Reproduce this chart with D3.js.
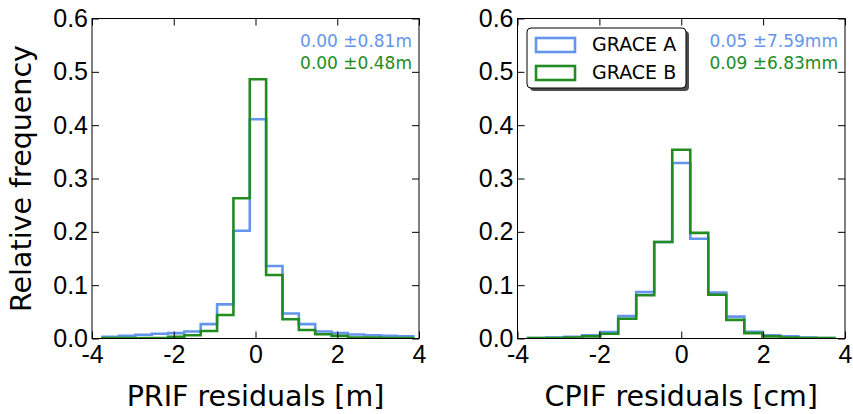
<!DOCTYPE html>
<html>
<head>
<meta charset="utf-8">
<script src="https://cdn.jsdelivr.net/npm/d3@7"></script>
<style>
  body { margin: 0; background: #fff; }
  svg { font-family: "DejaVu Sans", sans-serif; }
  .axis path { stroke: #000; }
  .axis line { stroke: #000; }
  .axis text { font-size: 25px; fill: #000; }
</style>
</head>
<body>
<div id="chart"></div>
<script>
// bin edges and relative frequencies
const prifEdges = [-3.74, -3.34, -2.94, -2.54, -2.14, -1.74, -1.34, -0.94, -0.54, -0.14,
                   0.26, 0.66, 1.06, 1.46, 1.86, 2.26, 2.66, 3.06, 3.46, 3.86];
const prifA = [0.003, 0.005, 0.007, 0.009, 0.010, 0.013, 0.027, 0.064, 0.202, 0.411,
               0.136, 0.047, 0.027, 0.013, 0.010, 0.0075, 0.006, 0.005, 0.004];
const prifB = [0.001, 0.001, 0.001, 0.001, 0.003, 0.006, 0.014, 0.044, 0.263, 0.486,
               0.119, 0.036, 0.016, 0.008, 0.005, 0.002, 0.002, 0.001, 0.001];

const cpifEdges = [-3.74, -3.30, -2.86, -2.42, -1.98, -1.54, -1.10, -0.66, -0.22,
                   0.22, 0.66, 1.10, 1.54, 1.98, 2.42, 2.86, 3.30, 3.74];
const cpifA = [0.001, 0.002, 0.003, 0.006, 0.012, 0.042, 0.087, 0.181, 0.329,
               0.187, 0.086, 0.041, 0.0125, 0.006, 0.004, 0.002, 0.001];
const cpifB = [0.001, 0.001, 0.002, 0.004, 0.009, 0.037, 0.081, 0.181, 0.354,
               0.198, 0.082, 0.035, 0.010, 0.004, 0.002, 0.001, 0.001];

const seriesNames = ["GRACE A", "GRACE B"];
const colors = ["#6495ED", "#228B22"];
const prifStats = ["0.00 \u00B10.81m", "0.00 \u00B10.48m"];
const cpifStats = ["0.05 \u00B17.59mm", "0.09 \u00B16.83mm"];
const xTicks = [-4, -2, 0, 2, 4];
const yTicks = [0, 0.1, 0.2, 0.3, 0.4, 0.5, 0.6];

const W = 853, H = 414;
const plotTop = 18.5, plotBottom = 338.5;
const tickLen = 7;

const svg = d3.select("#chart")
    .append("svg")
    .attr("width", W)
    .attr("height", H);

const y = d3.scaleLinear().domain([0, 0.6]).range([plotBottom, plotTop]);

// turn edges + heights into a step outline (matplotlib histtype="step")
function stepPoints(edges, vals) {
    const pts = [[edges[0], 0]];
    vals.forEach((v, i) => {
        pts.push([edges[i], v]);
        pts.push([edges[i + 1], v]);
    });
    pts.push([edges[edges.length - 1], 0]);
    return pts;
}

function panel(id, left, right, edges, a, b, stats, xlabel, showYLabel) {
    const x = d3.scaleLinear().domain([-4, 4]).range([left, right]);
    const g = svg.append("g");

    g.append("clipPath").attr("id", "clip-" + id)
        .append("rect")
        .attr("x", left).attr("y", plotTop)
        .attr("width", right - left).attr("height", plotBottom - plotTop);

    const line = d3.line().x(d => x(d[0])).y(d => y(d[1]));

    [a, b].forEach((vals, i) => {
        g.append("path")
            .attr("clip-path", `url(#clip-${id})`)
            .attr("d", line(stepPoints(edges, vals)))
            .attr("fill", "none")
            .attr("stroke", colors[i])
            .attr("stroke-width", 2.6)
            .attr("stroke-linejoin", "miter");
    });

    // axes, ticks pointing inward on all four sides
    g.append("g").attr("class", "axis")
        .attr("transform", `translate(0,${plotBottom})`)
        .call(d3.axisBottom(x).tickValues(xTicks).tickSize(-tickLen).tickPadding(7)
            .tickFormat(d => String(d)));
    g.append("g").attr("class", "axis")
        .attr("transform", `translate(0,${plotTop})`)
        .call(d3.axisTop(x).tickValues(xTicks).tickSize(-tickLen).tickFormat(""));
    g.append("g").attr("class", "axis")
        .attr("transform", `translate(${left},0)`)
        .call(d3.axisLeft(y).tickValues(yTicks).tickSize(-tickLen).tickPadding(4)
            .tickFormat(d3.format(".1f")));
    g.append("g").attr("class", "axis")
        .attr("transform", `translate(${right},0)`)
        .call(d3.axisRight(y).tickValues(yTicks).tickSize(-tickLen).tickFormat(""));

    g.selectAll(".axis .domain").remove();
    g.append("rect")
        .attr("x", left).attr("y", plotTop)
        .attr("width", right - left).attr("height", plotBottom - plotTop)
        .attr("fill", "none").attr("stroke", "#000").attr("stroke-width", 1);

    // mean ± std annotations
    stats.forEach((s, i) => {
        g.append("text")
            .attr("x", right - 7)
            .attr("y", 47 + i * 22)
            .attr("text-anchor", "end")
            .style("font-size", "17px")
            .attr("fill", colors[i])
            .text(s);
    });

    g.append("text")
        .attr("x", (left + right) / 2)
        .attr("y", 406)
        .attr("text-anchor", "middle")
        .style("font-size", "28.5px")
        .text(xlabel);

    if (showYLabel) {
        g.append("text")
            .attr("transform", `translate(31,${(plotTop + plotBottom) / 2}) rotate(-90)`)
            .attr("text-anchor", "middle")
            .style("font-size", "28.5px")
            .text("Relative frequency");
    }
    return x;
}

panel("prif", 92, 419, prifEdges, prifA, prifB, prifStats, "PRIF residuals [m]", true);
panel("cpif", 517.5, 845, cpifEdges, cpifA, cpifB, cpifStats, "CPIF residuals [cm]", false);

// legend in the right panel
const leg = svg.append("g").attr("transform", "translate(527,28)");
leg.append("rect")
    .attr("x", 3).attr("y", 3)
    .attr("width", 159).attr("height", 60).attr("rx", 4)
    .attr("fill", "#4d4d4d");
leg.append("rect")
    .attr("width", 159).attr("height", 60).attr("rx", 4)
    .attr("fill", "#fff").attr("stroke", "#000").attr("stroke-width", 1);
seriesNames.forEach((name, i) => {
    leg.append("rect")
        .attr("x", 9).attr("y", 10 + i * 28)
        .attr("width", 39).attr("height", 14)
        .attr("fill", "none")
        .attr("stroke", colors[i]).attr("stroke-width", 2.6);
    leg.append("text")
        .attr("x", 65).attr("y", 23 + i * 28)
        .style("font-size", "19px")
        .text(name);
});
</script>
</body>
</html>
